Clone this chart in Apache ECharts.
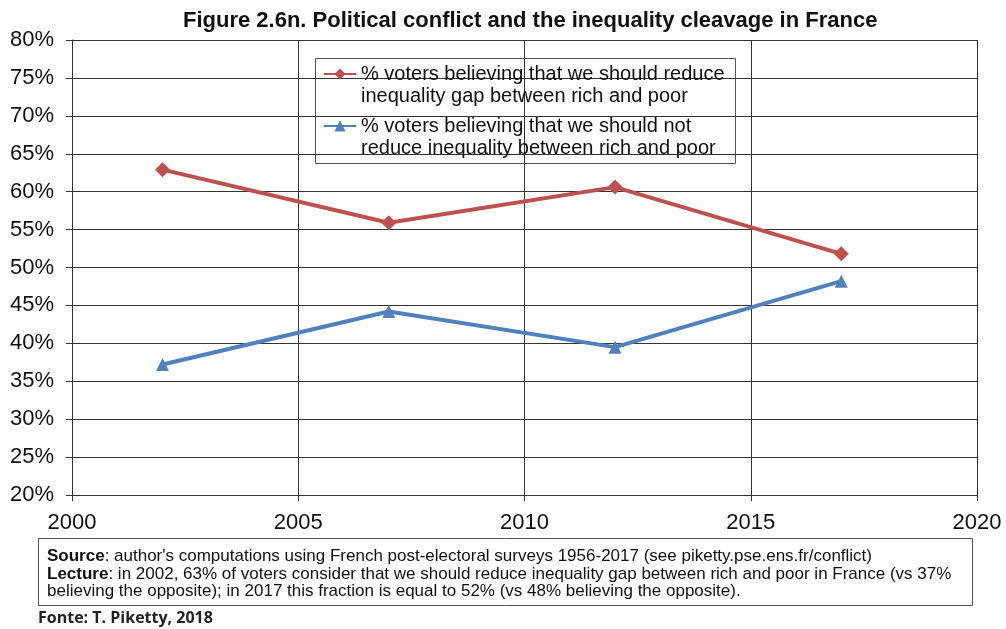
<!DOCTYPE html>
<html>
<head>
<meta charset="utf-8">
<script src="https://cdn.jsdelivr.net/npm/echarts@6/dist/echarts.min.js"></script>
<style>
html,body{margin:0;padding:0;background:#fff;}
#chart{width:1006px;height:629px;}
</style>
</head>
<body>
<div id="chart"></div>
<script>
const years = [2002, 2007, 2012, 2017];
const reduceGap = [62.9, 55.9, 60.6, 51.8];
const notReduce = [37.2, 44.2, 39.5, 48.2];
const seriesNames = [
  '% voters believing that we should reduce\ninequality gap between rich and poor',
  '% voters believing that we should not\nreduce inequality between rich and poor'
];
const titleText = 'Figure 2.6n. Political conflict and the inequality cleavage in France';
const sourceText = "author's computations using French post-electoral surveys 1956-2017 (see piketty.pse.ens.fr/conflict)";
const lectureText1 = 'in 2002, 63% of voters consider that we should reduce inequality gap between rich and poor in France (vs 37%';
const lectureText2 = 'believing the opposite); in 2017 this fraction is equal to 52% (vs 48% believing the opposite).';
const creditText = 'Fonte: T. Piketty, 2018';

const font = 'Liberation Sans, Arial, sans-serif';
const chart = echarts.init(document.getElementById('chart'));
chart.setOption({
  animation: false,
  backgroundColor: '#ffffff',
  title: {
    text: titleText,
    left: 183, top: 10, padding: 0,
    textStyle: {fontFamily: font, fontSize: 22, fontWeight: 'bold', color: '#111'}
  },
  grid: {left: 72, right: 29, top: 40, bottom: 134},
  xAxis: {
    type: 'value', min: 2000, max: 2020, interval: 5,
    axisLine: {show: true, lineStyle: {color: '#333', width: 1}},
    axisTick: {show: true, length: 6, lineStyle: {color: '#333'}},
    splitLine: {show: true, lineStyle: {color: '#333', width: 1}},
    axisLabel: {fontFamily: font, fontSize: 22, color: '#111', margin: 17, formatter: v => String(v)}
  },
  yAxis: {
    type: 'value', min: 20, max: 80, interval: 5,
    axisLine: {show: true, lineStyle: {color: '#333', width: 1}},
    axisTick: {show: true, length: 6, lineStyle: {color: '#333'}},
    splitLine: {show: true, lineStyle: {color: '#333', width: 1}},
    axisLabel: {fontFamily: font, fontSize: 22, color: '#111', margin: 18, formatter: v => v + '%'}
  },
  legend: {
    orient: 'vertical',
    left: 323, top: 41, padding: 0,
    itemWidth: 32, itemHeight: 14, itemGap: -14,
    formatter: name => '\n' + name,
    textStyle: {fontFamily: font, fontSize: 20, color: '#111', lineHeight: 22},
    data: seriesNames
  },
  graphic: [
    {type: 'rect', z: 0, shape: {x: 315.5, y: 58.5, width: 420, height: 105},
     style: {fill: '#fff', stroke: '#555', lineWidth: 1}},
    {type: 'rect', shape: {x: 38.5, y: 538.5, width: 934, height: 67},
     style: {fill: '#fff', stroke: '#555', lineWidth: 1}},
    {type: 'text', left: 47, top: 548,
     style: {text: '{b|Source}: ' + sourceText + '\n{b|Lecture}: ' + lectureText1 + '\n' + lectureText2,
             font: '17px Liberation Sans, Arial, sans-serif', fill: '#111', lineHeight: 17.5,
             rich: {b: {fontWeight: 'bold', fontSize: 17, fontFamily: font, fill: '#111', lineHeight: 17.5}}}},
    {type: 'text', left: 38, top: 610,
     style: {text: creditText, font: 'bold 16px Open Sans, Liberation Sans, sans-serif', fill: '#222'}}
  ],
  series: [
    {
      name: seriesNames[0], type: 'line',
      data: years.map((y, i) => [y, reduceGap[i]]),
      color: '#c0504d',
      lineStyle: {width: 4, color: '#c0504d'},
      symbol: 'diamond', symbolSize: 15,
      itemStyle: {color: '#c0504d'}
    },
    {
      name: seriesNames[1], type: 'line',
      data: years.map((y, i) => [y, notReduce[i]]),
      color: '#4f81bd',
      lineStyle: {width: 4, color: '#4f81bd'},
      symbol: 'triangle', symbolSize: 13,
      itemStyle: {color: '#4f81bd'}
    }
  ]
});
</script>
</body>
</html>
